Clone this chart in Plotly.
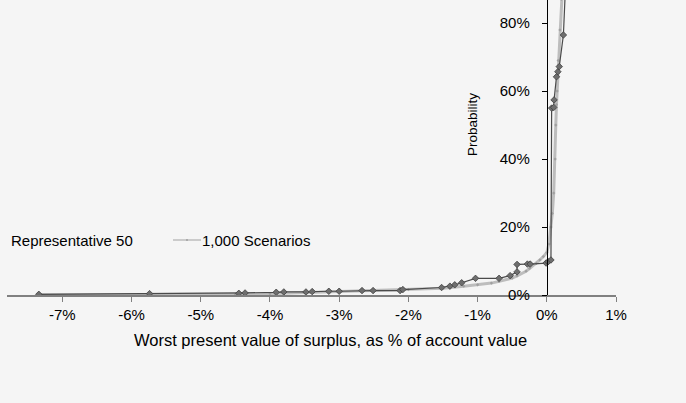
import plotly.graph_objects as go

# Worst present value of surplus (% of account value) vs cumulative probability (%)
rep50_x = [-7.34, -5.74, -4.45, -4.36, -3.91, -3.80, -3.48, -3.39, -3.15, -3.00,
           -2.67, -2.51, -2.12, -2.08, -1.52, -1.40, -1.33, -1.23, -1.03, -0.69,
           -0.53, -0.43, -0.43, -0.28, -0.24, -0.01, 0.02, 0.06, 0.07, 0.10,
           0.105, 0.14, 0.16, 0.18, 0.24, 0.29]
rep50_y = [0.2, 0.4, 0.5, 0.6, 0.8, 0.9, 0.9, 1.0, 1.1, 1.1,
           1.3, 1.3, 1.3, 1.6, 2.2, 2.6, 3.0, 3.6, 4.9, 4.9,
           5.7, 6.8, 9.0, 9.1, 9.1, 9.4, 9.8, 10.3, 55.0, 55.2,
           57.4, 64.2, 65.7, 67.2, 76.5, 100.0]

full_x = [-7.34, -5.74, -4.5, -4.0, -3.5, -3.0, -2.5, -2.0, -1.5, -1.2,
          -1.0, -0.8, -0.69, -0.5, -0.43, -0.3, -0.25, -0.15, -0.1, -0.05,
          0.0, 0.03, 0.06, 0.08, 0.10, 0.12, 0.13, 0.14, 0.15, 0.165,
          0.19, 0.21, 0.23, 0.25]
full_y = [0.1, 0.1, 0.2, 0.4, 0.7, 1.0, 1.3, 1.6, 2.0, 2.6,
          3.0, 3.5, 4.0, 5.0, 5.6, 7.0, 7.8, 9.3, 10.3, 11.3,
          12.5, 15.0, 20.0, 24.0, 30.0, 40.0, 50.0, 56.0, 60.0, 69.0,
          78.0, 87.0, 95.0, 100.0]

x_ticks = [-7, -6, -5, -4, -3, -2, -1, 0, 1]
x_tick_text = ["-7%", "-6%", "-5%", "-4%", "-3%", "-2%", "-1%", "0%", "1%"]
y_ticks = [0, 20, 40, 60, 80]
y_tick_text = ["0%", "20%", "40%", "60%", "80%"]

x_min, x_max = -7.8, 1.0
y_min, y_max = 0, 86.8

FONT = "Liberation Sans, Arial, sans-serif"
FS = 15
BG = "#f5f5f5"

# plot area in pixels: x 7..616, y 0..295
PW, PH, L = 609, 295, 7


def px(xp):
    return (xp - L) / PW


def py(yp):
    return (PH - yp) / PH


fig = go.Figure()

fig.add_trace(go.Scatter(
    x=full_x, y=full_y, mode="lines+markers", name="1,000 Scenarios",
    line=dict(color="#bdbdbd", width=3),
    marker=dict(symbol="diamond", size=2.5, color="#a0a0a0"),
    showlegend=False,
))
fig.add_trace(go.Scatter(
    x=rep50_x, y=rep50_y, mode="lines+markers", name="Representative 50",
    line=dict(color="#4a4a4a", width=1.2),
    marker=dict(symbol="diamond", size=5, color="#6e6e6e",
                line=dict(color="#404040", width=0.8)),
    showlegend=False,
))

fig.update_layout(
    width=686, height=403,
    margin=dict(l=7, r=70, t=0, b=108),
    paper_bgcolor=BG, plot_bgcolor=BG,
    font=dict(family=FONT, size=FS, color="#000000"),
    xaxis=dict(
        range=[x_min, x_max], showgrid=False, zeroline=False,
        showline=True, linecolor="#808080", linewidth=1.5,
        ticks="outside", ticklen=5, tickcolor="#808080",
        tickvals=x_ticks, ticktext=x_tick_text,
        tickfont=dict(size=FS), ticklabelstandoff=0,
    ),
    yaxis=dict(
        range=[y_min, y_max], showgrid=False, zeroline=False,
        anchor="free", position=(0 - x_min) / (x_max - x_min),
        showline=True, linecolor="#000000", linewidth=1,
        ticks="outside", ticklen=5, tickcolor="#000000",
        tickvals=y_ticks, ticktext=y_tick_text,
        tickfont=dict(size=FS), ticklabelstandoff=9,
    ),
    annotations=[
        dict(text="Worst present value of surplus, as % of account value",
             xref="paper", yref="paper", x=px(330), y=py(340),
             xanchor="center", yanchor="middle", showarrow=False,
             font=dict(size=16.5)),
        dict(text="Probability", xref="paper", yref="paper",
             x=px(472), y=py(125), textangle=-90,
             xanchor="center", yanchor="middle", showarrow=False,
             font=dict(size=13.5)),
        dict(text="Representative 50", xref="paper", yref="paper",
             x=px(9), y=py(240),
             xanchor="left", yanchor="middle", showarrow=False,
             font=dict(size=FS)),
        dict(text="1,000 Scenarios", xref="paper", yref="paper",
             x=px(200), y=py(240),
             xanchor="left", yanchor="middle", showarrow=False,
             font=dict(size=FS)),
    ],
    shapes=[
        dict(type="line", xref="paper", yref="paper",
             x0=px(173), x1=px(201), y0=py(240), y1=py(240),
             line=dict(color="#bdbdbd", width=1.5)),
        dict(type="circle", xref="paper", yref="paper",
             x0=px(186), x1=px(188), y0=py(241), y1=py(239),
             fillcolor="#a0a0a0", line=dict(width=0)),
    ],
)

fig.write_html("out.html")
